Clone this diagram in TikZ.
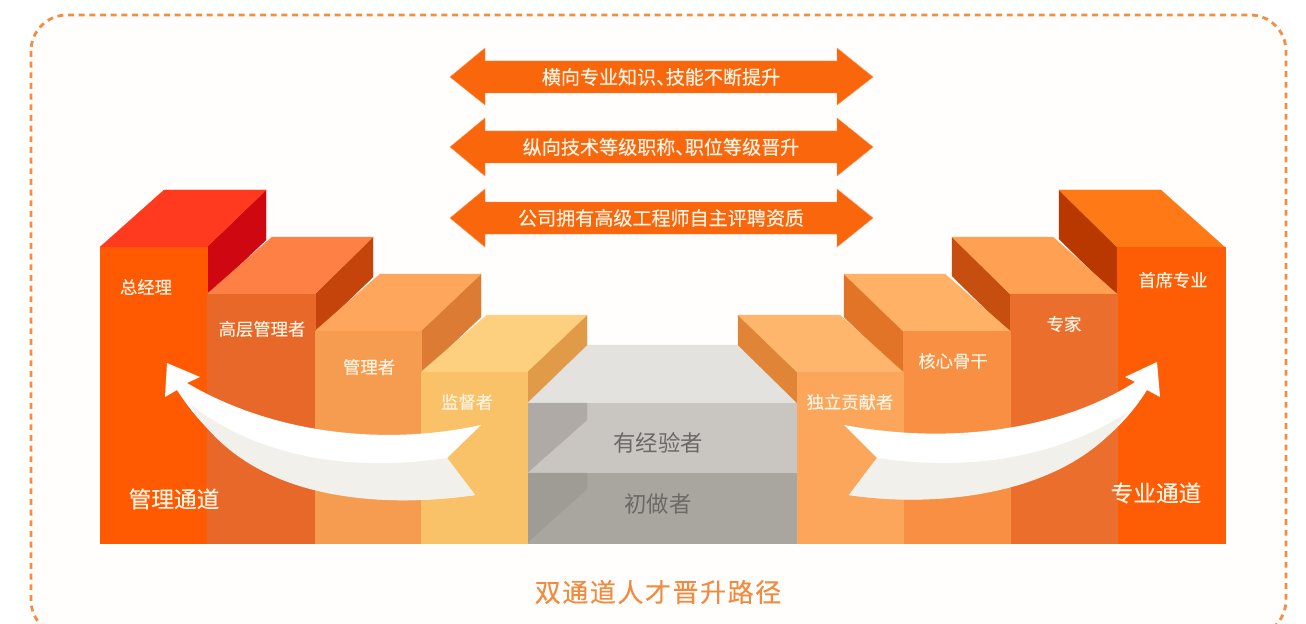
\documentclass[tikz,border=0pt]{standalone}
\usepackage{fontspec}
\setmainfont{Noto Sans CJK SC}
\newfontfamily\labelfont[FakeBold=0.25]{Noto Sans CJK SC}
\newfontfamily\titlefont[LetterSpace=6,FakeBold=0.15]{Noto Sans CJK SC}
\definecolor{bandorange}{HTML}{F9660C}
\definecolor{creamtext}{HTML}{FFF4E4}
\definecolor{graytext}{HTML}{6C6966}
\definecolor{titleorange}{HTML}{F28B3E}
\definecolor{dashorange}{HTML}{F68C3E}
\definecolor{arrowlow}{HTML}{F1F0EB}
\definecolor{paper}{HTML}{FFFEFD}
% left steps
\definecolor{la}{HTML}{FF5A02}\definecolor{lat}{HTML}{FF3A1E}\definecolor{las}{HTML}{CF0710}
\definecolor{lb}{HTML}{E8682A}\definecolor{lbt}{HTML}{FF8044}\definecolor{lbs}{HTML}{C4440C}
\definecolor{lc}{HTML}{F59C50}\definecolor{lct}{HTML}{FDA65C}\definecolor{lcs}{HTML}{DC7C34}
\definecolor{ld}{HTML}{FAC268}\definecolor{ldt}{HTML}{FDD080}\definecolor{lds}{HTML}{E09A48}
% right steps
\definecolor{ra}{HTML}{FF5C06}\definecolor{rat}{HTML}{FF7A16}\definecolor{ras}{HTML}{B83800}
\definecolor{rb}{HTML}{EC6E2C}\definecolor{rbt}{HTML}{FFA052}\definecolor{rbs}{HTML}{C64E0E}
\definecolor{rc}{HTML}{F88F42}\definecolor{rct}{HTML}{FFB266}\definecolor{rcs}{HTML}{E27428}
\definecolor{rd}{HTML}{FBA65A}\definecolor{rdt}{HTML}{FDB66C}\definecolor{rds}{HTML}{E08538}
% grey
\definecolor{gt}{HTML}{E4E2DE}\definecolor{gm}{HTML}{C9C5C1}\definecolor{gms}{HTML}{AFAAA6}
\definecolor{gl}{HTML}{A9A59F}\definecolor{gls}{HTML}{9F9B95}
\newcommand{\dun}{、\kern-0.5em\relax}
\tikzset{
  x=0.75pt,y=-0.75pt,
  face/.style={fill=#1,draw=#1,line width=0.15pt},
  band/.style={fill=bandorange,draw=bandorange!70!white,line width=0.3pt},
  lab/.style={text=creamtext,inner sep=0pt,font=\labelfont\fontsize{13}{14}\selectfont},
  banner/.style={text=creamtext,inner sep=0pt,font=\labelfont\fontsize{14.3}{16}\selectfont},
  tunnel/.style={text=creamtext,inner sep=0pt,font=\labelfont\fontsize{17}{19}\selectfont},
  graylab/.style={text=graytext,inner sep=0pt,font=\fontsize{16.8}{19}\selectfont},
}
\begin{document}
\begin{tikzpicture}
\useasboundingbox (0,0) rectangle (1306,624);
\fill[white] (0,0) rectangle (1306,624);
\begin{scope}
\clip (0,0) rectangle (1306,624);
\fill[paper,rounded corners=27pt] (31,15) rectangle (1286,636);
\draw[dashorange,line width=2.1pt,dash pattern=on 4.4pt off 3.6pt,rounded corners=27pt] (31,15) rectangle (1286,636);
\end{scope}
% double arrows
\path[band] (450,77) -- (485,48) -- (485,61) -- (837,61) -- (837,48) -- (873,77) -- (837,105) -- (837,93) -- (485,93) -- (485,105) -- cycle;
\path[band] (450,147) -- (485,118) -- (485,131) -- (837,131) -- (837,118) -- (873,147) -- (837,176) -- (837,163) -- (485,163) -- (485,176) -- cycle;
\path[band] (450,218) -- (485,189) -- (485,202) -- (837,202) -- (837,189) -- (873,218) -- (837,247) -- (837,234) -- (485,234) -- (485,247) -- cycle;
\node[banner] (b1) at (661,77) {横向专业知识\dun 技能不断提升};
\node[banner] (b2) at (661,147) {纵向技术等级职称\dun 职位等级晋升};
\node[banner] (b3) at (661,218) {公司拥有高级工程师自主评聘资质};
% grey steps
\path[face=gt] (587,345) -- (738,345) -- (797,403) -- (527,403) -- cycle;
\path[face=gm] (527,403) rectangle (797,473);
\path[face=gms] (527,403) -- (587,403) -- (587,420) -- (527,473) -- cycle;
\path[face=gl] (527,473) rectangle (797,542.6);
\path[face=gls] (527,473) -- (587,473) -- (587,489) -- (527,542.6) -- cycle;
% left staircase, back to front
\path[face=las] (207,247) -- (266,190) -- (266,240) -- (207,296) -- cycle;
\path[face=lbs] (315,294) -- (373,237) -- (373,277) -- (315,333) -- cycle;
\path[face=lcs] (421,331) -- (481,274) -- (481,317) -- (421,374) -- cycle;
\path[face=lds] (527,372) -- (587,315) -- (587,345) -- (527,403) -- cycle;
\path[face=lat] (100,247) -- (164,190) -- (266,190) -- (207,247) -- cycle;
\path[face=lbt] (207,294) -- (272,237) -- (373,237) -- (315,294) -- cycle;
\path[face=lct] (315,331) -- (380,274) -- (481,274) -- (421,331) -- cycle;
\path[face=ldt] (421,372) -- (487,315) -- (587,315) -- (527,372) -- cycle;
\path[face=la] (100,247) rectangle (207,542.6);
\path[face=lb] (207,294) rectangle (315,542.6);
\path[face=lc] (315,331) rectangle (421,542.6);
\path[face=ld] (421,372) rectangle (527,542.6);
% right staircase
\path[face=ras] (1059,190) -- (1117,247) -- (1117,296) -- (1059,239) -- cycle;
\path[face=rbs] (952,237) -- (1010,294) -- (1010,333) -- (952,276) -- cycle;
\path[face=rcs] (844,274) -- (903,331) -- (903,374) -- (844,317) -- cycle;
\path[face=rds] (738,315) -- (797,372) -- (797,403) -- (738,345) -- cycle;
\path[face=rat] (1059,190) -- (1161,190) -- (1224.6,247) -- (1117,247) -- cycle;
\path[face=rbt] (952,237) -- (1053,237) -- (1117,294) -- (1010,294) -- cycle;
\path[face=rct] (844,274) -- (945,274) -- (1010,331) -- (903,331) -- cycle;
\path[face=rdt] (738,315) -- (840,315) -- (903,372) -- (797,372) -- cycle;
\path[face=ra] (1117,247) rectangle (1224.6,542.6);
\path[face=rb] (1010,294) rectangle (1117,542.6);
\path[face=rc] (903,331) rectangle (1010,542.6);
\path[face=rd] (797,372) rectangle (903,542.6);
% left curved arrow
\fill[white] (167,363) -- (200,377) -- (187,383)
  .. controls (270,432) and (380,447) .. (481,425)
  -- (447,458) -- (475,495)
  .. controls (370,510) and (245,497) .. (177,390)
  -- (165,397) -- cycle;
\fill[arrowlow] (447,458) -- (475,495)
  .. controls (370,510) and (245,497) .. (190,404)
  .. controls (250,452) and (340,474) .. (447,458) -- cycle;
% right curved arrow
\fill[white] (1157,362) -- (1125,377) -- (1135,382)
  .. controls (1060,430) and (950,445) .. (844,425)
  -- (877,458) -- (849,495)
  .. controls (950,510) and (1085,490) .. (1147,390)
  -- (1160,397) -- cycle;
\fill[arrowlow] (877,458) -- (849,495)
  .. controls (950,510) and (1075,490) .. (1128,412)
  .. controls (1070,450) and (985,474) .. (877,458) -- cycle;
% labels
\node[lab] (l1) at (146,287) {总经理};
\node[lab] (l2) at (262,329) {高层管理者};
\node[lab] (l3) at (369,367) {管理者};
\node[lab] (l4) at (467,402) {监督者};
\node[lab] (r4) at (850,402) {独立贡献者};
\node[lab] (r3) at (953,361) {核心骨干};
\node[lab] (r2) at (1064,324) {专家};
\node[lab] (r1) at (1173,280) {首席专业};
\node[tunnel] (tl) at (174,499) {管理通道};
\node[tunnel] (tr) at (1156,493) {专业通道};
\node[graylab] (g1) at (658,443) {有经验者};
\node[graylab] (g2) at (658,504) {初做者};
\node[inner sep=0pt,text=titleorange,font=\titlefont\fontsize{19.5}{22}\selectfont] (title) at (658,592) {双通道人才晋升路径};
\end{tikzpicture}
\end{document}
